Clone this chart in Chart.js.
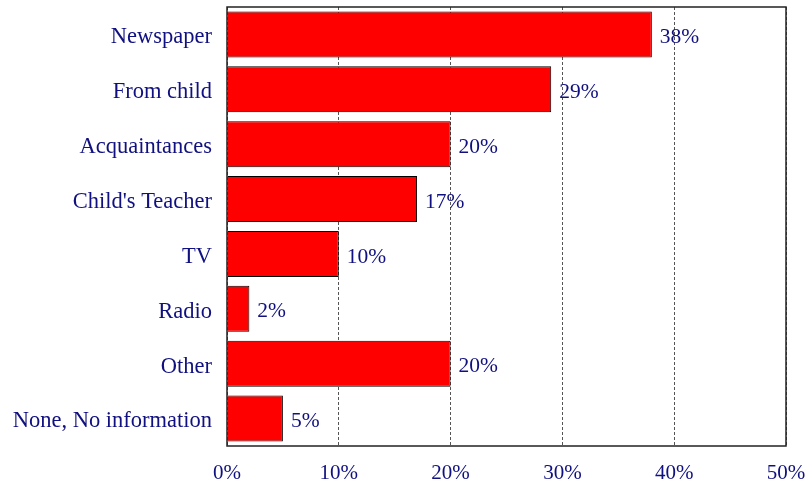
<!DOCTYPE html>
<html>
<head>
<meta charset="utf-8">
<script src="https://cdn.jsdelivr.net/npm/chart.js@4"></script>
<style>
  html, body { margin: 0; padding: 0; background: #fff; }
  #wrap { width: 806px; height: 485px; }
</style>
</head>
<body>
<div id="wrap"><canvas id="chart"></canvas></div>
<script>
const categories = [
  "Newspaper", "From child", "Acquaintances", "Child's Teacher",
  "TV", "Radio", "Other", "None, No information"
];
const shares = [38, 29, 20, 17, 10, 2, 20, 5];
const xTicks = [0, 10, 20, 30, 40, 50];

const navy = '#101080';
const serif = '"Liberation Serif", "Times New Roman", serif';

// value labels to the right of each bar, plus a solid frame round the plot
const barLabels = {
  id: 'barLabels',
  afterDatasetsDraw(chart) {
    const ctx = chart.ctx;
    const meta = chart.getDatasetMeta(0);
    ctx.save();
    ctx.fillStyle = navy;
    ctx.font = '21.5px ' + serif;
    ctx.textAlign = 'left';
    ctx.textBaseline = 'middle';
    meta.data.forEach((bar, i) => {
      ctx.fillText(shares[i] + '%', bar.x + 8, bar.y + 3);
    });
    const a = chart.chartArea;
    ctx.strokeStyle = '#222';
    ctx.lineWidth = 1.5;
    ctx.strokeRect(a.left, a.top, a.right - a.left, a.bottom - a.top);
    ctx.restore();
  }
};

new Chart(document.getElementById('chart'), {
  type: 'bar',
  data: {
    labels: categories,
    datasets: [{
      data: shares,
      backgroundColor: '#ff0000',
      borderColor: '#000',
      borderWidth: 1,
      barPercentage: 0.84,
      categoryPercentage: 1
    }]
  },
  options: {
    indexAxis: 'y',
    responsive: true,
    maintainAspectRatio: false,
    animation: false,
    layout: { padding: { top: 7, right: 20, left: 0, bottom: 0 } },
    plugins: { legend: { display: false }, tooltip: { enabled: false } },
    scales: {
      x: {
        min: 0, max: 50,
        afterBuildTicks: axis => { axis.ticks = xTicks.map(v => ({ value: v })); },
        afterFit: axis => {
          axis.height = 39;
          axis.paddingLeft = 0; axis.paddingRight = 0;
        },
        grid: { color: '#555', lineWidth: 1, drawTicks: false },
        border: { display: false, dash: [3, 2] },
        ticks: {
          color: navy, padding: 15,
          font: { family: serif, size: 21 },
          callback: v => v + '%'
        }
      },
      y: {
        afterFit: axis => {
          axis.width = 227;
          axis.paddingTop = 0; axis.paddingBottom = 0;
        },
        grid: { display: false, drawTicks: false },
        border: { display: false },
        ticks: {
          color: navy, padding: 15, labelOffset: 3,
          font: { family: serif, size: 22.5 }
        }
      }
    }
  },
  plugins: [barLabels]
});
</script>
</body>
</html>
